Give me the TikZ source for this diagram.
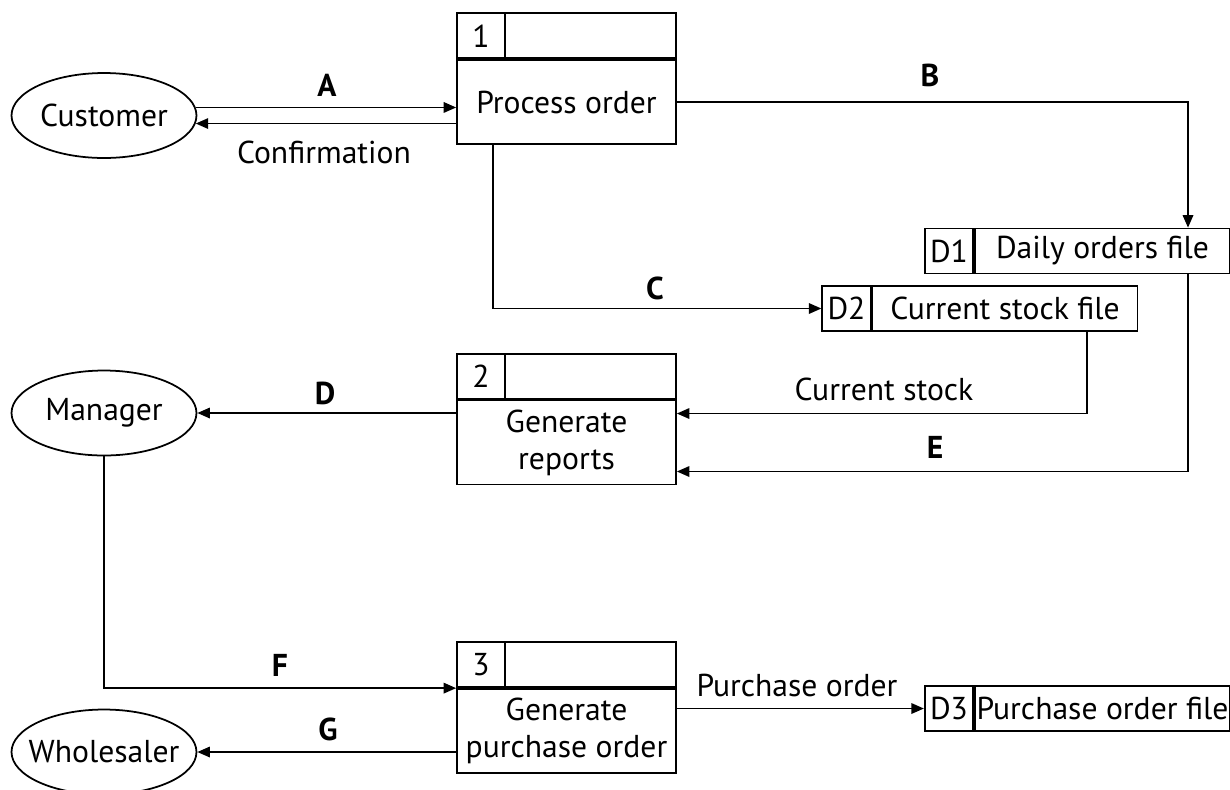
\documentclass[tikz,border=0pt]{standalone}
\usepackage{fontspec}
\setmainfont{PT Sans}
\usetikzlibrary{arrows.meta,positioning,shapes.geometric,calc}

\begin{document}
\begin{tikzpicture}[x=0.02cm,y=-0.02cm,line width=1pt,
  >={Triangle[length=0.25cm,width=0.21cm]},
  font=\fontsize{18}{21}\selectfont,
  extern/.style={ellipse,draw,minimum width=3.7cm,minimum height=1.7cm,inner xsep=-0.3cm,inner ysep=0pt},
  procbody/.style={draw,minimum width=4.38cm,minimum height=1.68cm,inner sep=0pt,align=center},
  prochead/.style={draw,minimum width=4.38cm,minimum height=0.9cm,inner sep=0pt},
  procnum/.style={draw,minimum width=0.96cm,minimum height=0.9cm,inner sep=0pt,anchor=north west},
  storeid/.style={draw,minimum width=0.97cm,minimum height=0.9cm,inner sep=0pt},
  storename/.style={draw,minimum height=0.9cm,inner sep=0pt},
  flowlbl/.style={font=\fontsize{18}{21}\selectfont\bfseries}]

\useasboundingbox (0,0) rectangle (1230,789);

% external entities
\node[extern] (cust) at (104,115.5) {Customer};
\node[extern] (mgr) at (104,413) {Manager};
\node[extern] (whs) at (104,752) {Wholesaler};

% processes
\node[procbody] (p1) at (566.5,102) {Process order};
\node[prochead] (p1h) [above=0pt of p1] {};
\node[procnum] (p1n) at (p1h.north west) {1};

\node[procbody] (p2) at (566.5,442.5) {Generate\\reports};
\node[prochead] (p2h) [above=0pt of p2] {};
\node[procnum] (p2n) at (p2h.north west) {2};

\node[procbody] (p3) at (566.5,731) {Generate\\purchase order};
\node[prochead] (p3h) [above=0pt of p3] {};
\node[procnum] (p3n) at (p3h.north west) {3};

% data stores
\node[storeid] (d1id) at (949,251) {D1};
\node[storename,minimum width=5.1cm] (d1n) [right=0pt of d1id] {Daily orders file};
\node[storeid] (d2id) at (846.5,308.5) {D2};
\node[storename,minimum width=5.3cm] (d2n) [right=0pt of d2id] {Current stock file};
\node[storeid] (d3id) at (949,708.5) {D3};
\node[storename,minimum width=5.1cm] (d3n) [right=0pt of d3id] {Purchase order file};

% bends of the flows
\coordinate (bx) at (1188,0);
\coordinate (sx) at (1087,0);
\coordinate (cx) at (493,0);

% flows
\draw[->] (cust.5) -- (cust.5 -| p1.west);
\draw[->] (cust.-5 -| p1.west) -- (cust.-5);
\draw[->] (p1.east) -| (bx |- d1n.north);
\draw[->] (p1.south -| cx) |- (d2id.west);
\draw[->] (sx |- d2n.south) |- ([yshift=0.58cm]p2.east);
\draw[->] (bx |- d1n.south) |- ([yshift=-0.58cm]p2.east);
\draw[->] (mgr.east -| p2.west) -- (mgr.east);
\draw[->] (mgr.south) |- (p3.north west);
\draw[->] (whs.east -| p3.west) -- (whs.east);
\draw[->] (d3id.west -| p3.east) -- (d3id.west);

% flow labels
\node[flowlbl] (lblA) at (327,85) {A};
\node (lblconf) at (324,152) {Confirmation};
\node[flowlbl] (lblB) at (930,75) {B};
\node[flowlbl] (lblC) at (655,288) {C};
\node (lblstock) at (884,389) {Current stock};
\node[flowlbl] (lblD) at (325,393) {D};
\node[flowlbl] (lblE) at (935,447) {E};
\node[flowlbl] (lblF) at (280,665) {F};
\node[flowlbl] (lblG) at (328,729) {G};
\node (lblpo) at (797,685) {Purchase order};

\end{tikzpicture}
\end{document}
